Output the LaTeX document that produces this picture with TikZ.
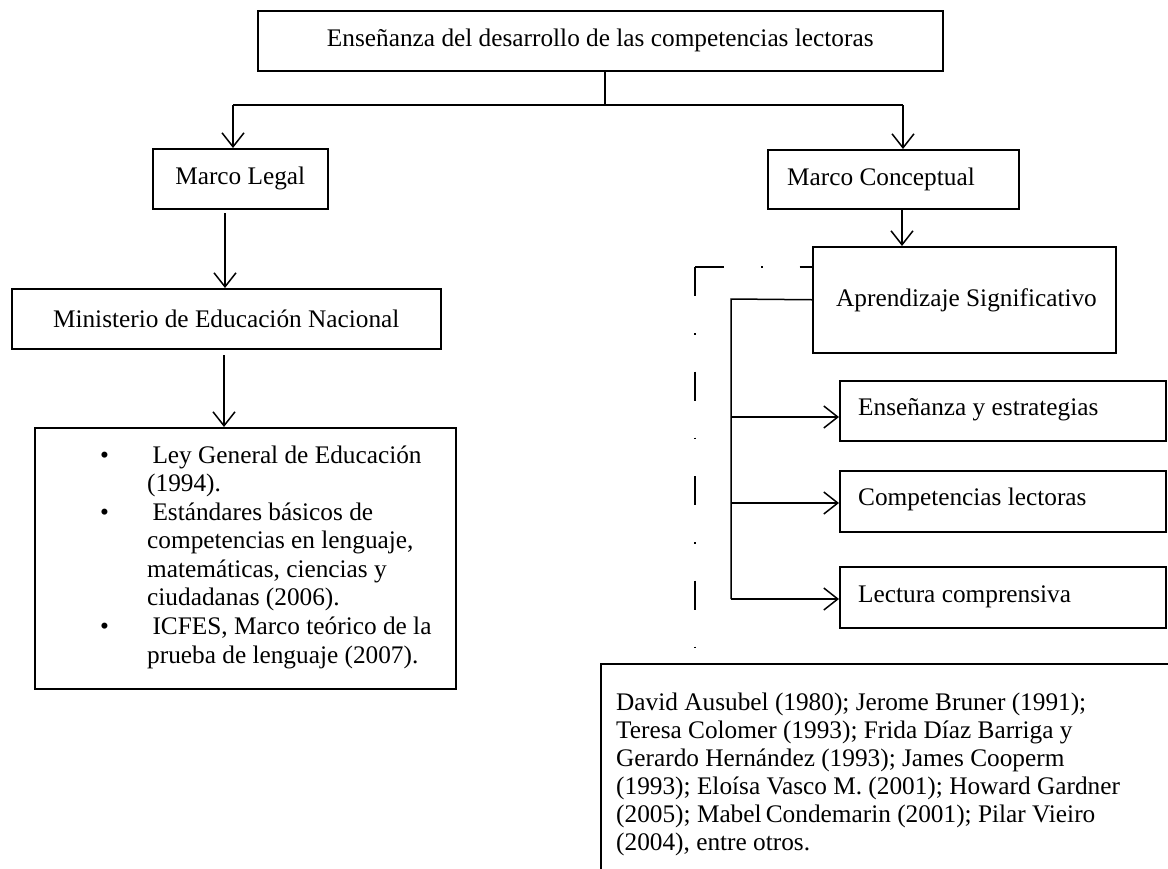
\documentclass[tikz,border=0pt]{standalone}
\usepackage{fontspec}
\setmainfont{Liberation Serif}
\usetikzlibrary{arrows.meta}
\begin{document}
\begin{tikzpicture}[x=1pt,y=-1pt,
  every node/.style={font=\fontsize{25.3pt}{28.5pt}\selectfont, inner sep=0pt},
  box/.style={draw, line width=1.5pt, fill=white, inner sep=0pt, anchor=north west},
  txt/.style={anchor=base west},
  ln/.style={line width=1.5pt},
  arr/.style={line width=1.5pt, -{Straight Barb[length=14pt,width=22pt,line width=1.5pt]}},
  dsh/.style={line width=1.5pt, dash pattern=on 29pt off 37pt on 1.5pt off 37pt}]
\useasboundingbox (0,0) rectangle (1168,868);
\clip (0,0) rectangle (1168,868);
\fill[white] (0,0) rectangle (1168,868);

% top
\node[box, minimum width=685pt, minimum height=60pt] (top) at (257,10) {};
\node (topt) at (top.center) {Enseñanza del desarrollo de las competencias lectoras};
\draw[ln] (top.south -| 605,0) -- (605,105);
\draw[ln] (233,105) -- (903,105);

% left column
\node[box, minimum width=175pt, minimum height=60pt] (ml) at (152,148) {};
\node (mlt) at (ml.center) {Marco Legal};
\node[box, minimum width=429pt, minimum height=60pt] (men) at (11,288) {};
\node (ment) at (men.center) {Ministerio de Educación Nacional};
\node[box, minimum width=421pt, minimum height=261pt] (list) at (34,427) {};
\node[txt] (b1) at (100,463) {•};
\node[txt] (l1) at (146,463) {\ Ley General de Educación};
\node[txt] (l2) at (147,491.6) {(1994).};
\node[txt] (b2) at (100,520.1) {•};
\node[txt] (l3) at (146,520.1) {\ Estándares básicos de};
\node[txt] (l4) at (147,548.7) {competencias en lenguaje,};
\node[txt] (l5) at (147,577.3) {matemáticas, ciencias y};
\node[txt] (l6) at (147,605.9) {ciudadanas (2006).};
\node[txt] (b3) at (100,634.4) {•};
\node[txt] (l7) at (146,634.4) {\ ICFES, Marco teórico de la};
\node[txt] (l8) at (147,663) {prueba de lenguaje (2007).};

\draw[arr] (233,105) -- (ml.north -| 233,0);
\draw[arr] (225,213) -- (men.north -| 225,0);
\draw[arr] (224,355) -- (list.north -| 224,0);

% right column
\draw[dsh] (695,267) -- (812,267);
\draw[dsh] (695,267) -- (695,650);

\node[box, minimum width=251pt, minimum height=59pt] (mc) at (767,149) {};
\node[txt] (mct) at (787,185) {Marco Conceptual};
\node[box, minimum width=303pt, minimum height=106pt] (as) at (812,246) {};
\node[txt] (ast) at (836,306) {Aprendizaje Significativo};
\draw[arr] (903,105) -- (mc.north -| 903,0);
\draw[arr] (mc.south -| 902,0) -- (as.north -| 902,0);

\node[box, minimum width=326pt, minimum height=60pt] (s1) at (839,380) {};
\node[txt] (s1t) at (858,415) {Enseñanza y estrategias};
\node[box, minimum width=326pt, minimum height=61pt] (s2) at (839,470) {};
\node[txt] (s2t) at (858,505) {Competencias lectoras};
\node[box, minimum width=326pt, minimum height=61pt] (s3) at (839,566) {};
\node[txt] (s3t) at (858,602) {Lectura comprensiva};

\coordinate (tr) at (731,299);
\draw[ln] (as.west) -- (tr) -- (731,599);
\draw[arr] (731,417) -- (s1.west |- 0,417);
\draw[arr] (731,503) -- (s2.west |- 0,503);
\draw[arr] (731,599) -- (s3.west |- 0,599);

% bottom box
\node[box, minimum width=700pt, minimum height=300pt] (bb) at (600,663) {};
\node[txt] (r1) at (616,710) {David Ausubel (1980); Jerome Bruner (1991);};
\node[txt] (r2) at (616,738) {Teresa Colomer (1993); Frida Díaz Barriga y};
\node[txt] (r3) at (616,766) {Gerardo Hernández (1993); James Cooperm};
\node[txt] (r4) at (616,794) {(1993); Eloísa Vasco M. (2001); Howard Gardner};
\node[txt] (r5) at (616,822) {(2005); Mabel\,Condemarin (2001); Pilar Vieiro};
\node[txt] (r6) at (616,850) {(2004), entre otros.};
\end{tikzpicture}
\end{document}
